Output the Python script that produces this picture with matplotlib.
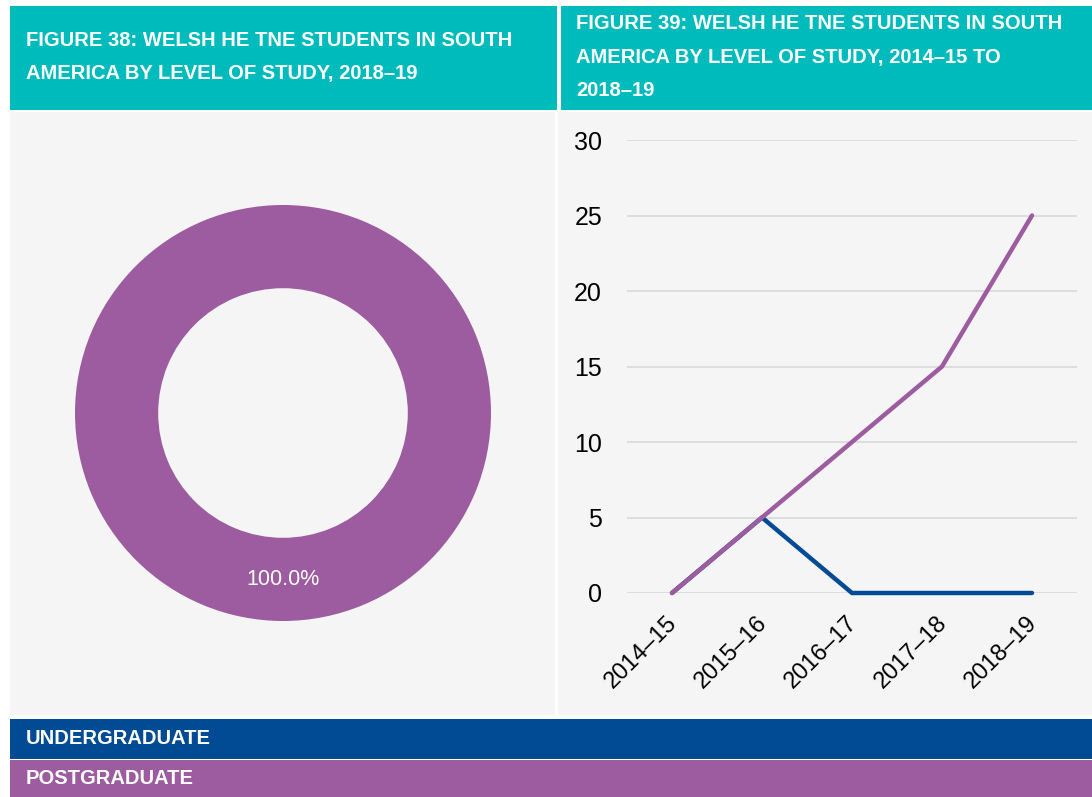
import matplotlib
matplotlib.use("Agg")
import matplotlib.pyplot as plt
import matplotlib.transforms as mtransforms
from matplotlib.patches import Rectangle

# data
donut_labels = ["Postgraduate"]
donut_values = [100.0]
years = ["2014\u201315", "2015\u201316", "2016\u201317", "2017\u201318", "2018\u201319"]
undergraduate = [0, 5, 0, 0, 0]
postgraduate = [0, 5, 10, 15, 25]

TEAL = "#00BBBB"
PURPLE = "#9C5C9F"
BLUE = "#004B93"
PANEL = "#F5F5F5"

W, H = 1092, 797
fig = plt.figure(figsize=(W / 100, H / 100), dpi=100)
fig.patch.set_facecolor("white")
plt.rcParams['font.family'] = ["Liberation Sans", "DejaVu Sans"]

head_font = ["Liberation Sans", "DejaVu Sans"]


def box(x0, y0, x1, y1, color):
    # pixel coords, origin top-left
    fig.patches.append(Rectangle((x0 / W, 1 - y1 / H), (x1 - x0) / W, (y1 - y0) / H,
                                 transform=fig.transFigure, facecolor=color,
                                 edgecolor="none", zorder=-5))


# headers
box(10, 6, 557, 110, TEAL)
box(561, 6, W, 110, TEAL)
# panels
box(10, 112, 555, 715, PANEL)
box(558, 112, W, 715, PANEL)
# legend bars
box(10, 719, W, 759, BLUE)
box(10, 760, W, H, PURPLE)

fig.text(26 / W, 1 - 57 / H, "FIGURE 38: WELSH HE TNE STUDENTS IN SOUTH\nAMERICA BY LEVEL OF STUDY, 2018\u201319",
         color="white", fontsize=14.5, fontweight="bold", family=head_font,
         va="center", ha="left", linespacing=1.95)
fig.text(576 / W, 1 - 57 / H, "FIGURE 39: WELSH HE TNE STUDENTS IN SOUTH\nAMERICA BY LEVEL OF STUDY, 2014\u201315 TO\n2018\u201319",
         color="white", fontsize=14.5, fontweight="bold", family=head_font,
         va="center", ha="left", linespacing=1.95)

fig.text(26 / W, 1 - 739 / H, "UNDERGRADUATE", color="white", fontsize=14.5,
         fontweight="bold", family=head_font, va="center", ha="left")
fig.text(26 / W, 1 - 778 / H, "POSTGRADUATE", color="white", fontsize=14.5,
         fontweight="bold", family=head_font, va="center", ha="left")

# donut
r = 208
cx, cy = 283, 413
ax1 = fig.add_axes([(cx - r) / W, 1 - (cy + r) / H, 2 * r / W, 2 * r / H])
ax1.pie(donut_values, colors=[PURPLE], startangle=90, counterclock=False,
        wedgeprops=dict(width=0.4, edgecolor="none"))
ax1.set_xlim(-1, 1)
ax1.set_ylim(-1, 1)
ax1.text(0, -0.8, f"{donut_values[0]:.1f}%", color="white", fontsize=15.5,
         ha="center", va="center")
ax1.axis("off")

# line chart
ax2 = fig.add_axes([627 / W, 1 - 593 / H, (1077 - 627) / W, (593 - 140) / H])
ax2.set_facecolor("none")
x = list(range(len(years)))
ax2.plot(x, undergraduate, color=BLUE, lw=3.2, solid_capstyle="round", clip_on=False, zorder=3)
ax2.plot(x, postgraduate, color=PURPLE, lw=3.2, solid_capstyle="round", clip_on=False, zorder=4)
ax2.set_xlim(-0.5, len(years) - 0.5)
ax2.set_ylim(0, 30)
ax2.set_yticks(range(0, 31, 5))
ax2.set_xticks(x)
ax2.set_xticklabels(years, rotation=45, ha="right", rotation_mode="anchor", fontsize=17)
ax2.tick_params(axis="y", labelsize=18, length=0, pad=18)
ax2.tick_params(axis="x", length=0, pad=12)
# nudge rotated labels a bit down-left, like the original
shift = mtransforms.ScaledTranslation(-0.06, -0.02, fig.dpi_scale_trans)
for lbl in ax2.get_xticklabels():
    lbl.set_transform(lbl.get_transform() + shift)
ax2.grid(axis="y", color="#D9D9D9", lw=1.2)
ax2.set_axisbelow(True)
for s in ax2.spines.values():
    s.set_visible(False)

fig.savefig("out.png", dpi=100)
